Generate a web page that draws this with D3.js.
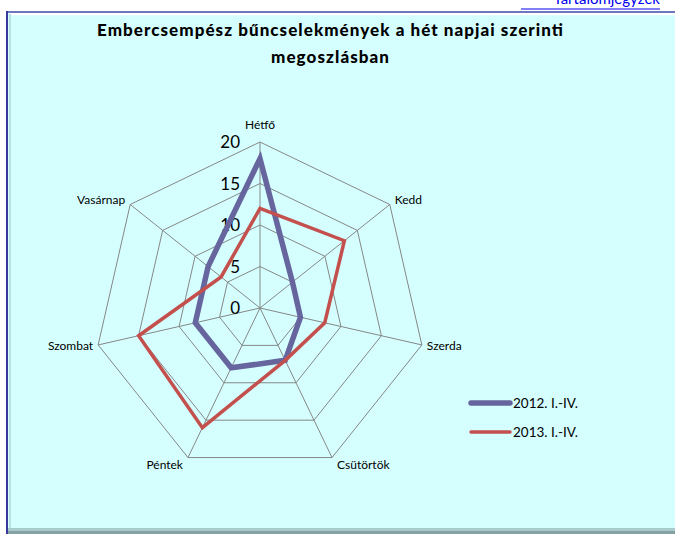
<!DOCTYPE html>
<html><head><meta charset="utf-8">
<script src="https://cdn.jsdelivr.net/npm/d3@7"></script>
<style>html,body{margin:0;padding:0;background:#fff;overflow:hidden}svg{display:block}</style>
</head><body>
<script>
const categories = ["Hétfő","Kedd","Szerda","Csütörtök","Péntek","Szombat","Vasárnap"];
const seriesNames = ["2012. I.-IV.","2013. I.-IV."];
const values2012 = [18,5,5,7,8,8,8];
const values2013 = [12,13,8,7,16,15,6];
const ticks = [0,5,10,15,20];
const title = ["Embercsempész bűncselekmények a hét napjai szerinti","megoszlásban"];

const W=675,H=536;
const svg=d3.select("body").append("svg").attr("width",W).attr("height",H);
const font="Lato, 'Open Sans', sans-serif";

// link (cut off at the top edge, as in the reference)
svg.append("text").attr("x",660).attr("y",4).attr("text-anchor","end")
  .attr("font-family",font).attr("font-size",15).attr("fill","#0000EE").text("Tartalomjegyzék");
svg.append("line").attr("x1",521).attr("x2",660).attr("y1",9).attr("y2",9).attr("stroke","#0000EE").attr("stroke-width",1.2);

// frame
svg.append("rect").attr("x",6).attr("y",11).attr("width",700).attr("height",523).attr("fill","#D5FFFF");
svg.append("rect").attr("x",6).attr("y",528).attr("width",700).attr("height",6).attr("fill","#A8CCCC");
svg.append("rect").attr("x",6).attr("y",531).attr("width",700).attr("height",3).attr("fill","#85A3A3");
svg.append("line").attr("x1",9).attr("x2",700).attr("y1",14).attr("y2",14).attr("stroke","#FFFFFF").attr("stroke-width",2.5);
svg.append("line").attr("x1",10).attr("x2",10).attr("y1",14).attr("y2",528).attr("stroke","#B8E2E2").attr("stroke-width",2);
svg.append("line").attr("x1",6).attr("x2",700).attr("y1",12).attr("y2",12).attr("stroke","#4A4AA8").attr("stroke-width",1.5);
svg.append("line").attr("x1",7).attr("x2",7).attr("y1",11).attr("y2",534).attr("stroke","#38389A").attr("stroke-width",2);

// title
svg.append("text").attr("x",330).attr("y",36).attr("text-anchor","middle").attr("font-family",font)
  .attr("font-weight","900").attr("font-size",17).attr("fill","#000")
  .attr("textLength",466).attr("lengthAdjust","spacing").text(title[0]);
svg.append("text").attr("x",330).attr("y",63).attr("text-anchor","middle").attr("font-family",font)
  .attr("font-weight","900").attr("font-size",17).attr("fill","#000")
  .attr("textLength",118).attr("lengthAdjust","spacing").text(title[1]);

const cx=260, cy=308, R=166;
const r=d3.scaleLinear().domain([0,20]).range([0,R]);
const n=categories.length;
const ang=i=>-Math.PI/2 + i*2*Math.PI/n;
const pt=(i,v)=>[cx+Math.cos(ang(i))*r(v), cy+Math.sin(ang(i))*r(v)];

const g=svg.append("g");
// rings
ticks.filter(t=>t>0).forEach(t=>{
  g.append("path").attr("d", d3.line()(d3.range(n).map(i=>pt(i,t)))+"Z")
   .attr("fill","none").attr("stroke","#868686").attr("stroke-width",1);
});
// spokes
d3.range(n).forEach(i=>{
  const p=pt(i,20);
  g.append("line").attr("x1",cx).attr("y1",cy).attr("x2",p[0]).attr("y2",p[1])
   .attr("stroke","#868686").attr("stroke-width",1);
});
// tick labels
ticks.forEach(t=>{
  g.append("text").attr("x",cx-20).attr("y",cy-r(t)).attr("dy","0.36em").attr("text-anchor","end")
   .attr("font-family",font).attr("font-size",17).attr("fill","#000").text(t);
});
// category labels
categories.forEach((c,i)=>{
  const p=pt(i,20), co=Math.cos(ang(i)), si=Math.sin(ang(i));
  let anchor = Math.abs(co)<0.1 ? "middle" : (co>0?"start":"end");
  let x=p[0] + (Math.abs(co)<0.1?0:(co>0?5:-5));
  let y;
  if(si<-0.9) y=p[1]-13;
  else if(si<0) y=p[1]-1;
  else if(si<0.5) y=p[1]+5;
  else y=p[1]+11;
  g.append("text").attr("x",x).attr("y",y).attr("text-anchor",anchor)
   .attr("font-family",font).attr("font-size",12).attr("fill","#000").text(c);
});

const series=[{name:seriesNames[0],vals:values2012,color:"#67659E",w:5.5},
              {name:seriesNames[1],vals:values2013,color:"#C3504D",w:3.5}];
const radial=d3.lineRadial().angle((d,i)=>i*2*Math.PI/n).radius(d=>r(d)).curve(d3.curveLinearClosed);
series.forEach(s=>{
  g.append("path").attr("transform",`translate(${cx},${cy})`).attr("d",radial(s.vals))
   .attr("fill","none").attr("stroke",s.color).attr("stroke-width",s.w).attr("stroke-linejoin","miter");
});

// legend
series.forEach((s,k)=>{
  const y=403+k*29;
  svg.append("line").attr("x1",471).attr("x2",510).attr("y1",y).attr("y2",y)
   .attr("stroke",s.color).attr("stroke-width",s.w).attr("stroke-linecap","round");
  svg.append("text").attr("x",513).attr("y",y).attr("dy","0.35em").attr("font-family",font)
   .attr("font-size",13.5).attr("fill","#000").text(s.name);
});
</script>
</body></html>
